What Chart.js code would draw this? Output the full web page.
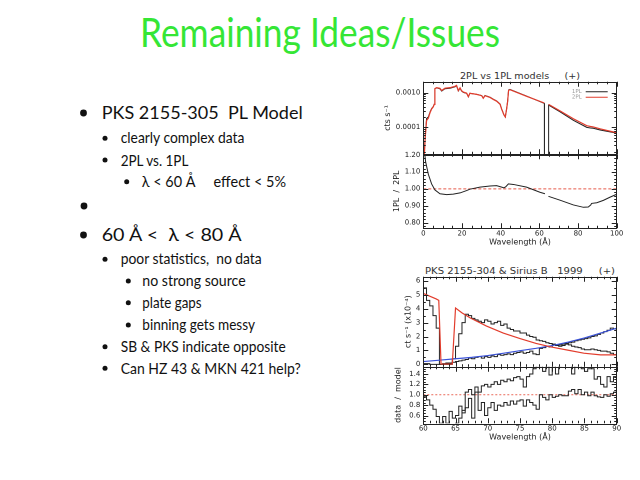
<!DOCTYPE html>
<html><head><meta charset="utf-8">
<script src="https://cdn.jsdelivr.net/npm/chart.js@4.4.1/dist/chart.umd.min.js"></script>
<style>
html,body{margin:0;padding:0;background:#fff;width:640px;height:480px;overflow:hidden;}
canvas.c{position:absolute;}
svg{position:absolute;left:0;top:0;}
</style></head>
<body>
<svg width="640" height="480" xmlns="http://www.w3.org/2000/svg">
  <text x="140" y="46.7" font-family="Lato" font-size="41" fill="#35e635" textLength="360" lengthAdjust="spacingAndGlyphs">Remaining Ideas/Issues</text>
  <g fill="#111" font-family="Lato">
    <circle cx="83.5" cy="113" r="3.4"/>
    <text x="101.7" y="119.3" font-size="17" textLength="201" lengthAdjust="spacingAndGlyphs">PKS 2155-305 &#160;PL Model</text>
    <circle cx="105" cy="138.3" r="2.5"/>
    <text x="120.7" y="142.7" font-size="15" textLength="123.7" lengthAdjust="spacingAndGlyphs">clearly complex data</text>
    <circle cx="105" cy="160" r="2.5"/>
    <text x="120.7" y="166" font-size="15" textLength="67.7" lengthAdjust="spacingAndGlyphs">2PL vs. 1PL</text>
    <circle cx="126.7" cy="181.7" r="2.5"/>
    <text x="141.7" y="187.3" font-size="15" textLength="144.3" lengthAdjust="spacingAndGlyphs">λ &lt; 60 Å &#160;&#160;&#160; effect &lt; 5%</text>
    <circle cx="84" cy="206" r="3.4"/>
    <circle cx="83.5" cy="235" r="3.4"/>
    <text x="101.7" y="241" font-size="17" textLength="140" lengthAdjust="spacingAndGlyphs">60 Å &lt; &#160;λ &lt; 80 Å</text>
    <circle cx="105" cy="259.3" r="2.5"/>
    <text x="120.7" y="264" font-size="15" textLength="141" lengthAdjust="spacingAndGlyphs">poor statistics, &#160;no data</text>
    <circle cx="128.3" cy="281" r="2.5"/>
    <text x="142.3" y="286" font-size="15" textLength="103.3" lengthAdjust="spacingAndGlyphs">no strong source</text>
    <circle cx="128.3" cy="302.7" r="2.5"/>
    <text x="142.3" y="307.7" font-size="15" textLength="59.3" lengthAdjust="spacingAndGlyphs">plate gaps</text>
    <circle cx="128.3" cy="325" r="2.5"/>
    <text x="142.3" y="330" font-size="15" textLength="112.7" lengthAdjust="spacingAndGlyphs">binning gets messy</text>
    <circle cx="105" cy="346.7" r="2.5"/>
    <text x="120.7" y="351.7" font-size="15" textLength="165" lengthAdjust="spacingAndGlyphs">SB &amp; PKS indicate opposite</text>
    <circle cx="105" cy="368.3" r="2.5"/>
    <text x="120.7" y="374" font-size="15" textLength="180" lengthAdjust="spacingAndGlyphs">Can HZ 43 &amp; MKN 421 help?</text>
  </g>
  <g fill="#333" font-family="DejaVu Sans" font-size="8.5">
    <text x="460" y="79" textLength="120" lengthAdjust="spacingAndGlyphs">2PL vs 1PL models &#160;&#160;&#160; (+)</text>
    <text x="425" y="274" textLength="190" lengthAdjust="spacingAndGlyphs">PKS 2155-304 &amp; Sirius B &#160; 1999 &#160;&#160;&#160; (+)</text>
  </g>
</svg>
<canvas id="cA" class="c" style="left:360px;top:66px;width:270px;height:90px" width="270" height="90"></canvas>
<canvas id="cB" class="c" style="left:360px;top:140px;width:270px;height:109px" width="270" height="109"></canvas>
<canvas id="cC" class="c" style="left:360px;top:262px;width:270px;height:110px" width="270" height="110"></canvas>
<canvas id="cD" class="c" style="left:360px;top:366px;width:270px;height:80px" width="270" height="80"></canvas>
<script>
// ---------- top plot: 2PL vs 1PL models ----------
const topWl = [0.3, 1.0, 1.7, 2.6, 3.5, 4.3, 5.2, 5.6, 6.0, 6.9, 8.6, 9.5, 11.2, 13.8, 16.4, 17.2, 18.1, 19.0, 19.8, 20.7, 22.4, 23.3, 24.1, 27.6, 30.2, 31.0, 31.9, 34.5, 36.2, 37.9, 39.7, 40.5, 41.7, 42.4, 43.1, 43.6, 44.1, 44.8, 53.4, 62.6, 62.65, 64.75, 64.8, 70.7, 77.6, 84.5, 86.5, 87.9, 91.4, 100];
const onePL = [1.0e-5, 6.0e-5, 1.8e-4, 2.0e-4, 2.8e-4, 3.5e-4, 4.0e-4, 4.6e-4, 1.3e-3, 1.38e-3, 1.3e-3, 1.12e-3, 1.3e-3, 1.35e-3, 1.48e-3, 1.58e-3, 1.12e-3, 1.35e-3, 1.12e-3, 1.02e-3, 9.6e-4, 7.6e-4, 9.6e-4, 9.0e-4, 8.3e-4, 7.0e-4, 8.3e-4, 7.4e-4, 6.5e-4, 5.8e-4, 4.7e-4, 3.4e-4, 2.3e-4, 2.0e-4, 3.5e-4, 5.7e-4, 1.2e-3, 1.25e-3, 8.0e-4, 4.9e-4, 1e-7, 1e-7, 4.4e-4, 2.8e-4, 1.6e-4, 1.0e-4, 9.6e-5, 9.4e-5, 8.4e-5, 6.8e-5];
const twoPL = [8e-6, 5.1e-5, 1.58e-4, 1.83e-4, 2.67e-4, 3.4e-4, 3.96e-4, 4.6e-4, 1.31e-3, 1.40e-3, 1.34e-3, 1.16e-3, 1.35e-3, 1.40e-3, 1.53e-3, 1.63e-3, 1.15e-3, 1.38e-3, 1.14e-3, 1.04e-3, 9.7e-4, 7.7e-4, 9.6e-4, 8.95e-4, 8.2e-4, 6.9e-4, 8.2e-4, 7.3e-4, 6.4e-4, 5.7e-4, 4.65e-4, 3.37e-4, 2.29e-4, 1.99e-4, 3.45e-4, 5.55e-4, 1.17e-3, 1.22e-3, 7.9e-4, 5.05e-4, null, null, 4.6e-4, 3.0e-4, 1.77e-4, 1.12e-4, 1.06e-4, 1.03e-4, 9.1e-5, 7.0e-5];
const ratioWl = [0.3, 1.2, 2.6, 4.3, 6.0, 8.6, 12.1, 15.5, 19.0, 22.4, 24.1, 29.3, 34.5, 37.9, 40.5, 41.7, 42.6, 44.0, 46.6, 53.4, 60.3, 62.9, 63.8, 64.7, 70.7, 77.6, 82.8, 85.3, 86.6, 87.0, 89.7, 93.1, 96.6, 100];
const ratioPL = [1.25, 1.16, 1.086, 1.029, 0.994, 0.971, 0.966, 0.969, 0.976, 0.99, 0.998, 1.01, 1.017, 1.019, 1.01, 1.006, 1.012, 1.029, 1.026, 1.01, 0.98, 0.971, null, 0.956, 0.933, 0.905, 0.891, 0.893, 0.905, 0.914, 0.918, 0.932, 0.951, 0.968];
const topXTicks = [0, 20, 40, 60, 80, 100];
const topXLabels = ['0', '20', '40', '60', '80', '100'];
const logTicks = [1e-4, 1e-3];
const logLabels = ['0.0001', '0.0010'];
const ratioTicks = [0.8, 0.9, 1.0, 1.1, 1.2];
const ratioLabels = ['0.80', '0.90', '1.00', '1.10', '1.20'];

// ---------- bottom plot: PKS 2155-304 & Sirius B 1999 ----------
const binLeft = [60.0, 60.5, 61.0, 61.5, 62.0, 62.5, 63.0, 63.5, 64.0, 64.5, 65.0, 65.5, 66.0, 66.5, 67.0, 67.5, 68.0, 68.5, 69.0, 69.5, 70.0, 70.5, 71.0, 71.5, 72.0, 72.5, 73.0, 73.5, 74.0, 74.5, 75.0, 75.5, 76.0, 76.5, 77.0, 77.5, 78.0, 78.5, 79.0, 79.5, 80.0, 80.5, 81.0, 81.5, 82.0, 82.5, 83.0, 83.5, 84.0, 84.5, 85.0, 85.5, 86.0, 86.5, 87.0, 87.5, 88.0, 88.5, 89.0, 89.5];
const binEnd = 90;
const pksData = [5.5, 4.6, 4.2, 3.5, 2.6, 0, 0, 0, 0, 0.4, 1.3, 2.2, 3.0, 3.6, 3.5, 3.3, 3.2, 3.1, 3.0, 3.2, 3.1, 2.9, 3.0, 3.1, 2.8, 2.9, 2.6, 2.5, 2.4, 2.4, 2.25, 2.25, 2.1, 2.0, 1.95, 1.75, 1.7, 1.65, 1.55, 1.5, 1.45, 1.35, 1.4, 1.35, 1.45, 1.4, 1.3, 1.25, 1.2, 1.1, 1.05, 1.05, 1.1, 1.05, 1.0, 0.95, 0.95, 0.9, 0.8, 0.7];
const sbData = [0.05, 0.05, 0.0, 0.0, 0.0, 0.0, 0.05, 0.1, 0.1, 0.15, 0.2, 0.25, 0.3, 0.35, 0.45, 0.4, 0.5, 0.55, 0.45, 0.55, 0.5, 0.6, 0.55, 0.7, 0.65, 0.7, 0.75, 0.7, 0.8, 0.85, 0.9, 0.8, 0.85, 0.95, 0.75, 0.7, 1.15, 1.2, 1.3, 1.25, 1.4, 1.35, 1.3, 1.45, 1.5, 1.55, 1.6, 1.7, 1.75, 1.8, 1.85, 1.9, 2.0, 2.05, 2.15, 2.25, 2.35, 2.45, 2.6, 2.55];
const pksRatio = [0.97, 0.9, 0.8, 0.72, 0.58, 0.3, 0.3, 0.3, 0.3, 0.4, 0.45, 0.55, 0.7, 1.05, 1.1, 1.0, 1.15, 1.05, 1.17, 1.2, 1.15, 1.2, 1.25, 1.2, 1.28, 1.25, 1.3, 1.27, 1.33, 1.35, 1.3, 1.15, 1.35, 1.4, 1.5, 1.55, 1.55, 1.45, 1.55, 1.38, 1.55, 1.4, 1.55, 1.6, 1.6, 1.6, 1.4, 1.55, 1.6, 1.5, 1.45, 1.5, 1.5, 1.3, 1.35, 1.2, 1.15, 1.35, 1.25, 1.35];
const sbRatio = [0.3, 0.3, 0.2, 0.2, 0.3, 0.45, 0.58, 0.45, 0.68, 0.55, 0.6, 0.78, 0.65, 0.75, 0.93, 0.55, 1.05, 0.7, 0.85, 0.6, 0.75, 0.85, 0.7, 0.8, 0.78, 0.85, 0.8, 0.88, 0.82, 0.88, 0.9, 0.78, 0.9, 0.85, 0.8, 0.72, 1.0, 0.95, 0.9, 1.0, 0.95, 0.97, 1.0, 0.98, 0.98, 1.07, 1.1, 1.02, 1.1, 1.0, 1.05, 0.98, 1.05, 0.98, 0.96, 0.95, 1.0, 0.97, 1.02, 1.05];
const pksModelWl = [60, 61, 62.0, 62.4, 62.75, 64.5, 65.0, 66, 67.3, 69.8, 72.4, 75, 77.5, 79.8, 82.4, 84.9, 87.5, 90];
const pksModel = [5.1, 4.9, 4.7, 4.6, 0.02, 0.02, 4.05, 3.7, 3.33, 2.75, 2.25, 1.85, 1.5, 1.25, 1.02, 0.8, 0.68, 0.68];
const sbModelWl = [60, 62.5, 65, 67.5, 70, 72.5, 75, 77.5, 80, 82.5, 85, 87.5, 90];
const sbModel = [0.2, 0.3, 0.4, 0.5, 0.63, 0.8, 0.98, 1.15, 1.35, 1.6, 1.9, 2.25, 2.6];
const botXTicks = [60, 65, 70, 75, 80, 85, 90];
const botXLabels = ['60', '65', '70', '75', '80', '85', '90'];
const ctsTicks = [0, 1, 2, 3, 4, 5, 6];
const ctsLabels = ['0', '1', '2', '3', '4', '5', '6'];
const dmTicks = [0.6, 0.8, 1.0, 1.2, 1.4];
const dmLabels = ['0.6', '0.8', '1.0', '1.2', '1.4'];

// ---------- helpers ----------
const INK = '#222';
const RED = '#e23c2c';
const BLUE = '#3a52d8';
Chart.defaults.font.family = 'DejaVu Sans';
Chart.defaults.color = INK;

function steps(a, b, s) { const r = []; for (let v = a; v <= b + 1e-9; v += s) r.push(+v.toFixed(4)); return r; }
function pairs(xs, ys) { return xs.map((x, i) => ({x, y: ys[i]})); }
function hist(edges, vals, end) { const p = pairs(edges, vals); p.push({x: end, y: vals[vals.length - 1]}); return p; }

const framePlugin = {
  id: 'frame',
  afterDatasetsDraw(chart, args, o) {
    const {ctx, chartArea: a} = chart;
    const xs = chart.scales.x, ys = chart.scales.y;
    ctx.save();
    ctx.strokeStyle = INK; ctx.lineWidth = 1;
    ctx.strokeRect(Math.round(a.left) + 0.5, Math.round(a.top) + 0.5, Math.round(a.right - a.left), Math.round(a.bottom - a.top));
    ctx.beginPath();
    const mark = (vals, len, isX) => {
      for (const v of vals || []) {
        if (isX) {
          const p = Math.round(xs.getPixelForValue(v)) + 0.5;
          if (p < a.left - 1 || p > a.right + 1) continue;
          ctx.moveTo(p, a.bottom); ctx.lineTo(p, a.bottom - len);
          ctx.moveTo(p, a.top); ctx.lineTo(p, a.top + len);
        } else {
          const p = Math.round(ys.getPixelForValue(v)) + 0.5;
          if (p < a.top - 1 || p > a.bottom + 1) continue;
          ctx.moveTo(a.left, p); ctx.lineTo(a.left + len, p);
          ctx.moveTo(a.right, p); ctx.lineTo(a.right - len, p);
        }
      }
    };
    mark(o.xMajor, 5, true); mark(o.xMinor, 2.5, true);
    mark(o.yMajor, 5, false); mark(o.yMinor, 2.5, false);
    ctx.stroke();
    if (o.legend) {
      ctx.font = '5.5px DejaVu Sans';
      ctx.textAlign = 'right'; ctx.textBaseline = 'middle';
      o.legend.forEach((l, i) => {
        const y = a.top + 10 + i * 5.5;
        ctx.fillStyle = '#999';
        ctx.fillText(l.text, a.right - 35, y);
        ctx.strokeStyle = l.color; ctx.lineWidth = 1;
        ctx.beginPath(); ctx.moveTo(a.right - 31, y); ctx.lineTo(a.right - 9, y); ctx.stroke();
      });
    }
    ctx.restore();
  }
};

function xAxis(min, max, ticks, labels, show, height) {
  return {
    type: 'linear', min, max,
    grid: {display: false, drawTicks: false}, border: {display: false},
    ticks: {display: show, autoSkip: false, maxRotation: 0, padding: 1.2, font: {size: 7}, color: INK,
      callback: (v, i) => labels[i]},
    afterBuildTicks: s => { s.ticks = ticks.map(v => ({value: v})); },
    afterFit: s => { s.height = height; s.paddingLeft = 0; s.paddingRight = 0; },
    title: {display: show, text: 'Wavelength (Å)', padding: 0, font: {size: 8}, color: INK}
  };
}
function yAxis(type, min, max, ticks, labels, title, width) {
  return {
    type, min, max,
    grid: {display: false, drawTicks: false}, border: {display: false},
    ticks: {autoSkip: false, padding: 3, font: {size: 7}, color: INK, callback: (v, i) => labels[i]},
    afterBuildTicks: s => { s.ticks = ticks.map(v => ({value: v})); },
    afterFit: s => { s.width = width; s.paddingTop = 0; s.paddingBottom = 0; },
    title: {display: true, text: title, padding: 0, font: {size: 8}, color: INK}
  };
}
function line(data, color, extra) {
  return Object.assign({data, borderColor: color, backgroundColor: color, borderWidth: 1, pointRadius: 0, tension: 0, spanGaps: false, fill: false}, extra || {});
}
function baseOpts(pad, x, y, frame) {
  return {
    responsive: false, animation: false, devicePixelRatio: 2,
    layout: {padding: pad},
    plugins: {legend: {display: false}, tooltip: {enabled: false}, title: {display: false}, frame},
    scales: {x, y}
  };
}

// Chart A: log counts
new Chart(document.getElementById('cA'), {
  type: 'line',
  data: {datasets: [
    line(pairs(topWl, twoPL), RED, {borderWidth: 1.2}),
    line(pairs(topWl, onePL), INK)
  ]},
  options: baseOpts({left: 23.2, top: 15.7, right: 13.3, bottom: 1.7},
    xAxis(0, 100, topXTicks, topXLabels, false, 0),
    yAxis('logarithmic', 1.67e-5, 2.08e-3, logTicks, logLabels, 'cts s\u207B\u00B9', 40.1),
    {xMajor: topXTicks, xMinor: steps(0, 100, 5), yMajor: logTicks,
     yMinor: [2e-5,3e-5,4e-5,5e-5,6e-5,7e-5,8e-5,9e-5,2e-4,3e-4,4e-4,5e-4,6e-4,7e-4,8e-4,9e-4,2e-3],
     legend: [{text: '1PL', color: INK}, {text: '2PL', color: RED}]}),
  plugins: [framePlugin]
});

// Chart B: 1PL / 2PL ratio
new Chart(document.getElementById('cB'), {
  type: 'line',
  data: {datasets: [
    line(pairs(ratioWl, ratioPL), INK),
    line([{x: 0, y: 1}, {x: 100, y: 1}], '#e65a4a', {borderDash: [3, 2]})
  ]},
  options: baseOpts({left: 31.9, top: 14.3, right: 13.3, bottom: 1.9},
    xAxis(0, 100, topXTicks, topXLabels, true, 18.8),
    yAxis('linear', 0.767, 1.204, ratioTicks, ratioLabels, '1PL  /  2PL', 31.4),
    {xMajor: topXTicks, xMinor: steps(0, 100, 5), yMajor: ratioTicks, yMinor: steps(0.78, 1.2, 0.02)}),
  plugins: [framePlugin]
});

// Chart C: counts
new Chart(document.getElementById('cC'), {
  type: 'line',
  data: {datasets: [
    line(pairs(pksModelWl, pksModel), RED, {borderWidth: 1.2}),
    line(pairs(sbModelWl, sbModel), BLUE, {borderWidth: 1.2}),
    line(hist(binLeft, pksData, binEnd), INK, {stepped: true}),
    line(hist(binLeft, sbData, binEnd), INK, {stepped: true})
  ]},
  options: baseOpts({left: 43.5, top: 14.7, right: 13.3, bottom: 5.3},
    xAxis(60, 90, botXTicks, botXLabels, false, 0),
    yAxis('linear', -0.17, 6.3, ctsTicks, ctsLabels, 'ct s\u207B\u00B9 (x10\u207B\u2074)', 19.8),
    {xMajor: botXTicks, xMinor: steps(60, 90, 1), yMajor: ctsTicks, yMinor: steps(0, 6, 0.5)}),
  plugins: [framePlugin]
});

// Chart D: data / model
new Chart(document.getElementById('cD'), {
  type: 'line',
  data: {datasets: [
    line(hist(binLeft, pksRatio, binEnd), INK, {stepped: true}),
    line(hist(binLeft, sbRatio, binEnd), INK, {stepped: true}),
    line([{x: 60, y: 1}, {x: 90, y: 1}], '#ea6a5a', {borderDash: [2, 2]})
  ]},
  options: baseOpts({left: 33.5, top: 0.7, right: 13.3, bottom: 3.9},
    xAxis(60, 90, botXTicks, botXLabels, true, 18.8),
    yAxis('linear', 0.45, 1.54, dmTicks, dmLabels, 'data  /  model', 29.8),
    {xMajor: botXTicks, xMinor: steps(60, 90, 1), yMajor: dmTicks, yMinor: steps(0.5, 1.5, 0.05)}),
  plugins: [framePlugin]
});
</script>
</body></html>
